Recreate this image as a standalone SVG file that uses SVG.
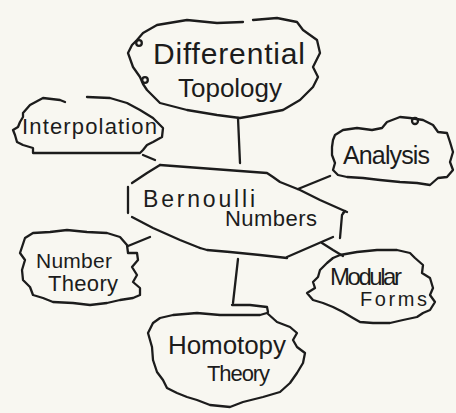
<svg xmlns="http://www.w3.org/2000/svg" width="456" height="413" viewBox="0 0 456 413">
<style>
.ln{fill:none;stroke:#1c1c1c;stroke-width:2.3;stroke-linejoin:round;stroke-linecap:round}
.t{font-family:"Liberation Sans","DejaVu Sans",sans-serif;fill:#1c1c1c;font-weight:normal}
</style>
<rect width="456" height="413" fill="#f8f7f1"/>
<g id="connectors" class="ln">
<path d="M238,118 L240,163"/>
<path d="M143,155 L155,160"/>
<path d="M298,189 L330,176"/>
<path d="M128,246 L150,237"/>
<path d="M322,243 L333,250 L343,256"/>
<path d="M238,259 L233,303"/>
</g>
<g id="bernoulli">
<polyline class="ln" points="160,165 200,168 267,173 273,177 280,182 300,190 320,200 347,212"/>
<polyline class="ln" points="343,213 345,211 342,215 340,238"/>
<polyline class="ln" points="333,237 310,247 287,257"/>
<polyline class="ln" points="287,258 260,255 230,252 207,250 200,248"/>
<polyline class="ln" points="200,248 180,240 153,228 132,217"/>
<polyline class="ln" points="128,213 128,187"/>
<polyline class="ln" points="132,183 147,173 160,165"/>
<text class="t" x="143" y="207" font-size="23" textLength="112" lengthAdjust="spacing">Bernoulli</text>
<text class="t" x="225" y="226" font-size="22" textLength="92" lengthAdjust="spacing">Numbers</text>
</g>
<g id="differential-topology">
<polyline class="ln" points="253,20 277,18 297,22 303,30 317,40 320,53 313,67 318,77 313,87 300,100 283,110 257,115 240,118 217,115 187,110 160,103 147,90 143,84 140,77 133,67 128,53 132,45 137,40 143,33 157,25 187,20 217,23 243,22"/>
<circle class="ln" cx="139" cy="43" r="2.8"/>
<circle class="ln" cx="145" cy="80" r="2.8"/>
<text class="t" x="153" y="64" font-size="30" textLength="152" lengthAdjust="spacing">Differential</text>
<text class="t" x="178" y="97" font-size="26" textLength="104" lengthAdjust="spacing">Topology</text>
</g>
<g id="interpolation">
<polyline class="ln" points="87,97 110,98 127,103 140,110 153,118 163,128 162,137 153,142 147,145 143,150 140,153 33,153 33,148 23,145 17,142 15,135 13,130 18,127 20,122 23,117 23,113 30,105 43,98 60,100 65,102"/>
<text class="t" x="22" y="134" font-size="22" textLength="135" lengthAdjust="spacing">Interpolation</text>
</g>
<g id="analysis">
<polygon class="ln" points="335,135 343,130 357,128 372,130 382,128 387,122 400,117 410,118 423,120 433,125 438,132 447,133 450,142 453,152 450,162 453,170 447,177 438,178 430,185 417,183 400,182 380,180 363,178 347,177 338,175 333,170 335,163 332,155 332,147 333,140"/>
<circle class="ln" cx="415" cy="121" r="3"/>
<text class="t" x="343" y="164" font-size="25" textLength="87" lengthAdjust="spacing">Analysis</text>
</g>
<g id="number-theory">
<polygon class="ln" points="25,238 33,233 50,232 67,230 87,232 107,233 120,237 127,245 128,253 137,253 138,260 132,267 137,275 133,282 140,288 140,295 133,298 120,300 107,303 90,305 73,303 53,302 43,298 33,295 30,287 23,280 22,270 25,260 20,253 22,247"/>
<text class="t" x="36" y="268" font-size="21" textLength="76" lengthAdjust="spacing">Number</text>
<text class="t" x="48" y="291" font-size="22" textLength="70" lengthAdjust="spacing">Theory</text>
</g>
<g id="modular-forms">
<polygon class="ln" points="322,268 327,263 333,258 340,255 357,252 377,250 397,250 410,253 415,258 423,265 422,273 430,278 433,288 430,295 435,302 430,310 423,313 417,317 403,320 390,323 373,323 360,322 353,318 343,312 333,307 323,303 313,300 307,293 315,288 313,282 318,277 320,270"/>
<text class="t" x="330" y="285" font-size="24" textLength="72" lengthAdjust="spacing">Modular</text>
<text class="t" x="360" y="306" font-size="20" textLength="67" lengthAdjust="spacing">Forms</text>
</g>
<g id="homotopy-theory">
<polyline class="ln" points="232,305 250,305 267,307 268,312"/>
<polygon class="ln" points="153,323 160,318 173,315 197,313 220,315 237,315 260,315 267,313 277,322 290,327 297,333 293,340 297,347 305,353 303,363 297,373 290,383 280,392 263,397 243,402 230,407 210,405 197,400 187,397 177,393 167,388 163,380 157,372 153,360 152,347 148,333"/>
<text class="t" x="168" y="354" font-size="26" textLength="118" lengthAdjust="spacing">Homotopy</text>
<text class="t" x="207" y="381" font-size="22" textLength="63" lengthAdjust="spacing">Theory</text>
</g>
</svg>
